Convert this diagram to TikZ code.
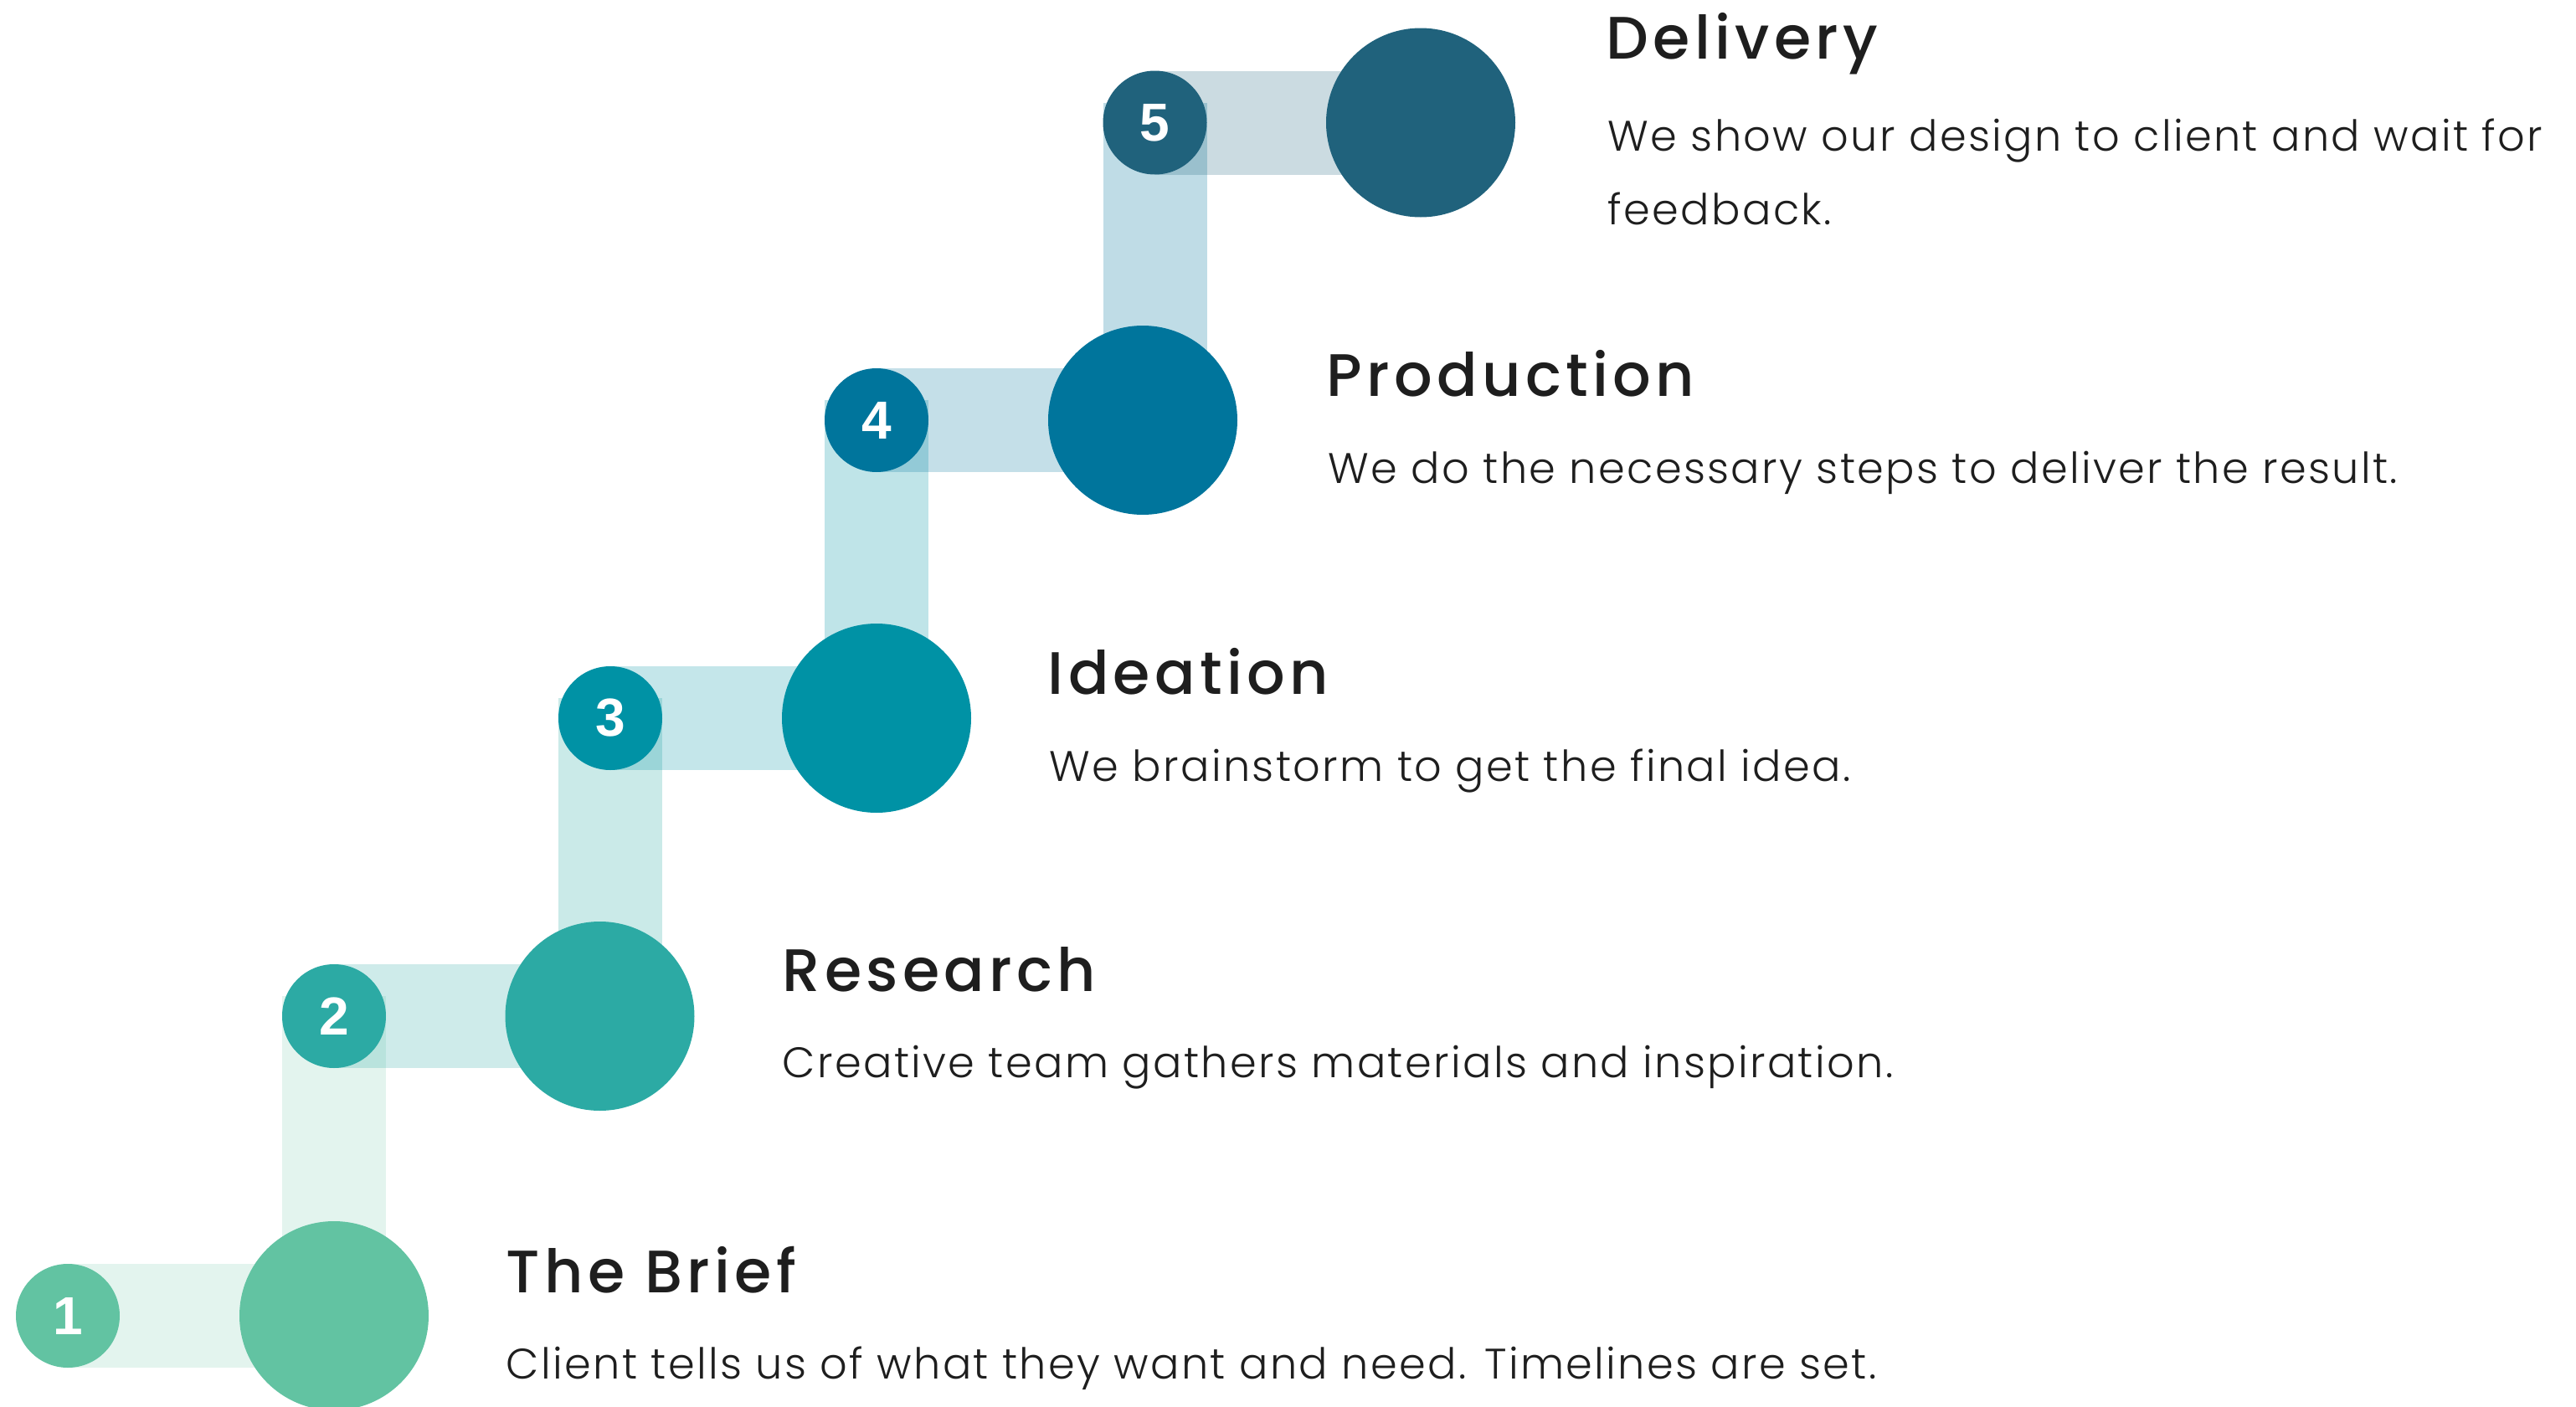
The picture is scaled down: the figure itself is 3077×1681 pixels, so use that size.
\documentclass[tikz,border=0pt]{standalone}
\usepackage{fontspec}
\usetikzlibrary{calc}
\IfFontExistsTF{Poppins Light}{\newfontfamily\bodyfont{Poppins Light}[LetterSpace=4.6]}{%
 \IfFontExistsTF{Poppins-Light}{\newfontfamily\bodyfont{Poppins-Light}[LetterSpace=4.6]}{%
 \newfontfamily\bodyfont{Poppins}[LetterSpace=4.6]}}
\IfFontExistsTF{Poppins Medium}{\newfontfamily\titlefont{Poppins Medium}[LetterSpace=7.4]}{\newfontfamily\titlefont{Poppins}[LetterSpace=7.4]}
\newfontfamily\numfont{Liberation Sans}
\definecolor{c1}{HTML}{62C3A2}
\definecolor{c2}{HTML}{2CAAA4}
\definecolor{c3}{HTML}{0092A5}
\definecolor{c4}{HTML}{00759C}
\definecolor{c5}{HTML}{20627C}
\definecolor{ink}{HTML}{1E1E1E}
\tikzset{
  small/.style={circle, fill=#1, minimum size=31pt, inner sep=0pt, text=white, font=\numfont\bfseries\fontsize{16pt}{16pt}\selectfont},
  big/.style={circle, fill=#1, minimum size=56.5pt, inner sep=0pt},
  hbar/.style={fill=#1, fill opacity=0.23},
  vbar/.style={fill=#1, fill opacity=0.25},
  title/.style={anchor=base west, inner sep=0pt, text=ink, font=\titlefont\fontsize{17.9pt}{20pt}\selectfont},
  desc/.style={anchor=base west, inner sep=0pt, text=ink, align=left, font=\bodyfont\fontsize{12.75pt}{22pt}\selectfont},
}
\begin{document}
\begin{tikzpicture}[x=0.25pt, y=-0.25pt]
\useasboundingbox (0,0) rectangle (3077,1681);
% circle positions
\coordinate (p1) at (81,1572);   \coordinate (q1) at (399,1572);
\coordinate (p2) at (399,1214);  \coordinate (q2) at (716.5,1214);
\coordinate (p3) at (729,858);   \coordinate (q3) at (1047,858);
\coordinate (p4) at (1047,502);  \coordinate (q4) at (1365,502);
\coordinate (p5) at (1379.5,146.5); \coordinate (q5) at (1697,146.5);
% corners of the vertical bars
\coordinate (v1a) at ($(p2)+(-62,-24)$); \coordinate (v1b) at ($(p2)+(62,0)$);
\coordinate (v2a) at ($(p3)+(-62,-24)$); \coordinate (v2b) at ($(p3)+(62,0)$);
\coordinate (v3a) at ($(p4)+(-62,-24)$); \coordinate (v3b) at ($(p4)+(62,0)$);
\coordinate (v4a) at ($(p5)+(-62,-24)$); \coordinate (v4b) at ($(p5)+(62,0)$);
% vertical bars
\fill[vbar=c1, fill opacity=0.18] (v1a) rectangle (v1b |- q1);
\fill[vbar=c2] (v2a) rectangle (v2b |- q2);
\fill[vbar=c3] (v3a) rectangle (v3b |- q3);
\fill[vbar=c4] (v4a) rectangle (v4b |- q4);
% horizontal bars
\fill[hbar=c1, fill opacity=0.18] ($(p1)+(0,-62)$) rectangle ($(q1)+(0,62)$);
\fill[hbar=c2] ($(p2)+(0,-62)$) rectangle ($(q2)+(0,62)$);
\fill[hbar=c3] ($(p3)+(0,-62)$) rectangle ($(q3)+(0,62)$);
\fill[hbar=c4] ($(p4)+(0,-62)$) rectangle ($(q4)+(0,62)$);
\fill[hbar=c5] ($(p5)+(0,-62)$) rectangle ($(q5)+(0,62)$);
% circles
\node[small=c1] (s1) at (p1) {1};
\node[big=c1] (b1) at (q1) {};
\node[small=c2] (s2) at (p2) {2};
\node[big=c2] (b2) at (q2) {};
\node[small=c3] (s3) at (p3) {3};
\node[big=c3] (b3) at (q3) {};
\node[small=c4] (s4) at (p4) {4};
\node[big=c4] (b4) at (q4) {};
\node[small=c5] (s5) at (p5) {5};
\node[big=c5] (b5) at (q5) {};
% texts
\node[title] (t1) at (604,1544) {The Brief};
\node[desc] (d1) at (604,1647) {Client tells us of what they want and need. Timelines are set.};
\node[title] (t2) at (934,1184) {Research};
\node[desc] (d2) at (934,1287) {Creative team gathers materials and inspiration.};
\node[title] (t3) at (1251,829) {Ideation};
\node[desc] (d3) at (1253,933) {We brainstorm to get the final idea.};
\node[title] (t4) at (1584,473) {Production};
\node[desc] (d4) at (1586,577) {We do the necessary steps to deliver the result.};
\node[title] (t5) at (1918,70) {Delivery};
\node[desc] (d5) at (1920,268) {We show our design to client and wait for\\feedback.};
\end{tikzpicture}
\end{document}
